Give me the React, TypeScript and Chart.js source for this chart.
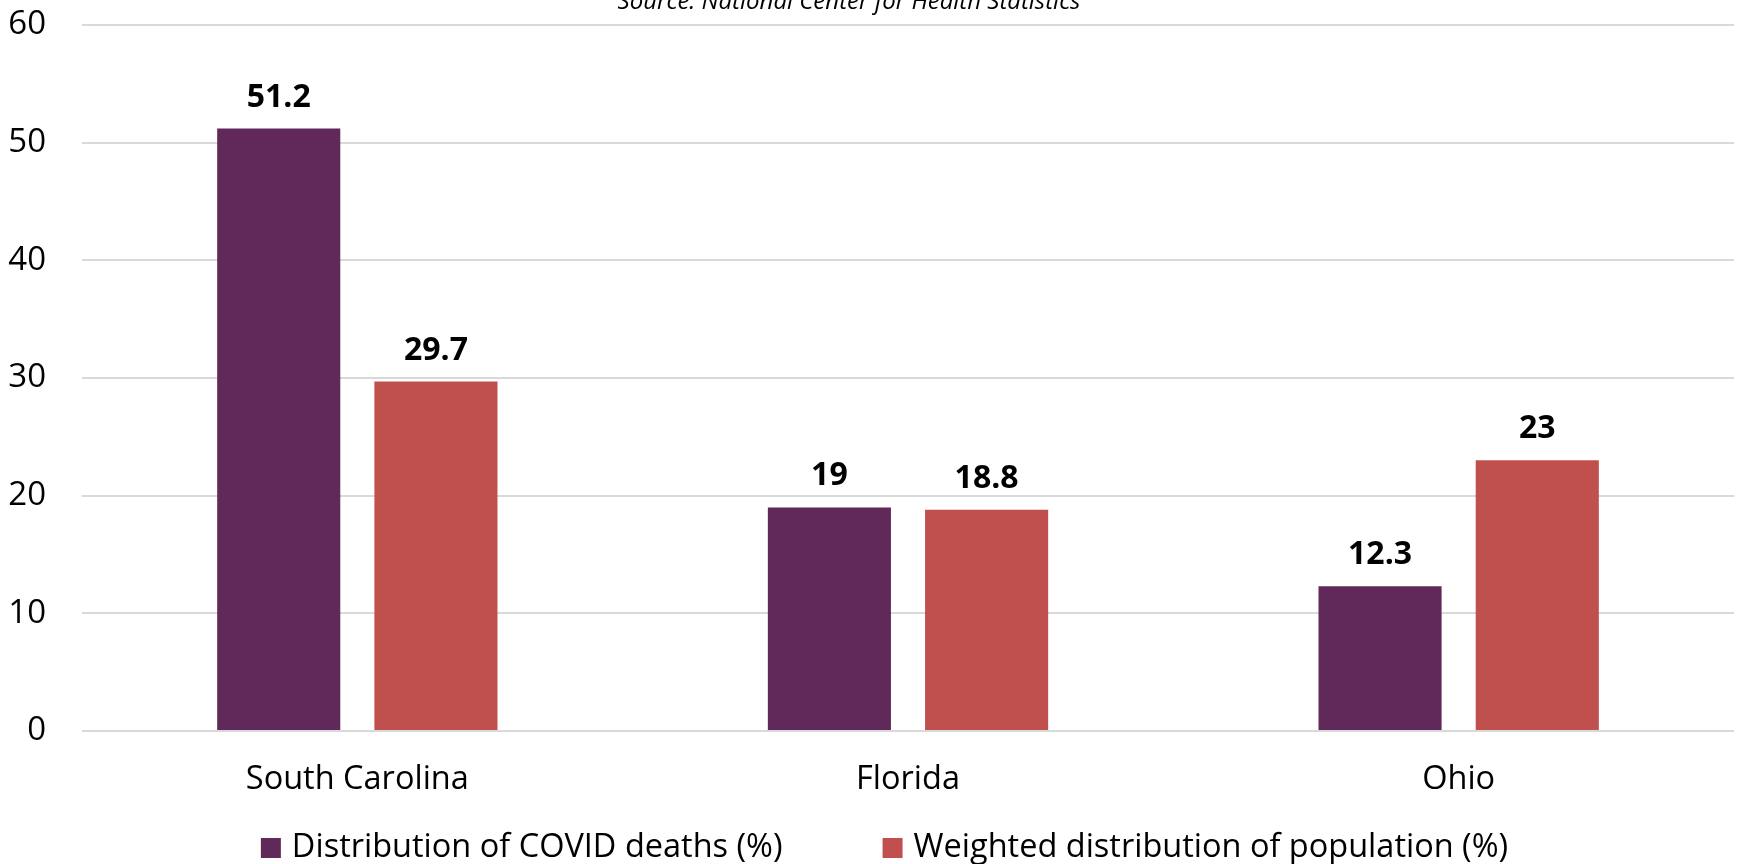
import React, { useEffect, useRef } from "react";
import { Chart, registerables } from "chart.js";

Chart.register(...registerables);

const categories = ["South Carolina", "Florida", "Ohio"];
const covidDeaths = [51.2, 19, 12.3];
const populationShare = [29.7, 18.8, 23];
const seriesNames = ["Distribution of COVID deaths (%)", "Weighted distribution of population (%)"];
const seriesColors = ["#60295A", "#C0504D"];
const yMin = 0;
const yMax = 60;
const yStep = 10;
const sourceNote = "Source: National Center for Health Statistics";

const FONT = "'Open Sans', 'Noto Sans', sans-serif";

const dataLabelPlugin = {
  id: "dataLabels",
  afterDatasetsDraw(chart: any) {
    const ctx = chart.ctx;
    ctx.save();
    ctx.font = `bold 32px ${FONT}`;
    ctx.fillStyle = "#000";
    ctx.textAlign = "center";
    ctx.textBaseline = "alphabetic";
    chart.data.datasets.forEach((ds: any, i: number) => {
      const meta = chart.getDatasetMeta(i);
      meta.data.forEach((bar: any, j: number) => {
        ctx.fillText(String(ds.data[j]), bar.x, bar.y - 22);
      });
    });
    ctx.restore();
  },
};

const sourcePlugin = {
  id: "sourceNote",
  afterDraw(chart: any) {
    const ctx = chart.ctx;
    ctx.save();
    ctx.font = `italic 24px ${FONT}`;
    ctx.fillStyle = "#000";
    ctx.textAlign = "center";
    ctx.textBaseline = "alphabetic";
    ctx.fillText(sourceNote, 849, 9);
    ctx.restore();
  },
};

const legendPlugin = {
  id: "customLegend",
  afterDraw(chart: any) {
    const ctx = chart.ctx;
    ctx.save();
    ctx.font = `32.5px ${FONT}`;
    const box = 20;
    const textGap = 11;
    const itemGap = 100;
    const widths = seriesNames.map((n) => box + textGap + ctx.measureText(n).width);
    const total = widths.reduce((a, b) => a + b, 0) + itemGap * (widths.length - 1);
    let x = 884.5 - total / 2;
    const boxTop = 838;
    const baseline = 857;
    seriesNames.forEach((n, i) => {
      ctx.fillStyle = seriesColors[i];
      ctx.fillRect(x, boxTop, box, box);
      ctx.fillStyle = "#000";
      ctx.textAlign = "left";
      ctx.textBaseline = "alphabetic";
      ctx.fillText(n, x + box + textGap, baseline);
      x += widths[i] + itemGap;
    });
    ctx.restore();
  },
};

export default function App() {
  const ref = useRef<HTMLCanvasElement | null>(null);
  useEffect(() => {
    if (!ref.current) return;
    const chart = new Chart(ref.current, {
      type: "bar",
      data: {
        labels: categories,
        datasets: [
          { label: seriesNames[0], data: covidDeaths, backgroundColor: seriesColors[0], borderWidth: 0, categoryPercentage: 0.571, barPercentage: 0.783 },
          { label: seriesNames[1], data: populationShare, backgroundColor: seriesColors[1], borderWidth: 0, categoryPercentage: 0.571, barPercentage: 0.783 },
        ],
      },
      options: {
        animation: false,
        responsive: false,
        maintainAspectRatio: false,
        layout: { padding: { top: 6, bottom: 33, left: 0, right: 6 } },
        plugins: {
          legend: { display: false },
          tooltip: { enabled: false },
          title: { display: false },
        },
        scales: {
          x: {
            grid: { display: false, drawTicks: false },
            border: { display: false },
            ticks: { color: "#000", font: { family: FONT, size: 32.5 }, padding: 29.5 },
            afterFit: (scale: any) => {
              scale.height = 100;
            },
          },
          y: {
            min: yMin,
            max: yMax,
            grid: { color: "#d9d9d9", lineWidth: 2, drawTicks: false },
            border: { display: false },
            ticks: { stepSize: yStep, color: "#000", font: { family: FONT, size: 33 }, padding: 36 },
            afterFit: (scale: any) => {
              scale.width = 82;
              scale.paddingTop = 25;
              scale.paddingBottom = 0;
            },
          },
        },
      },
      plugins: [dataLabelPlugin, sourcePlugin, legendPlugin],
    });
    return () => chart.destroy();
  }, []);
  return (
    <div style={{ position: "absolute", left: 0, top: 0, width: 1740, height: 864, background: "#fff" }}>
      <canvas ref={ref} width={1740} height={864} style={{ display: "block" }} />
    </div>
  );
}
